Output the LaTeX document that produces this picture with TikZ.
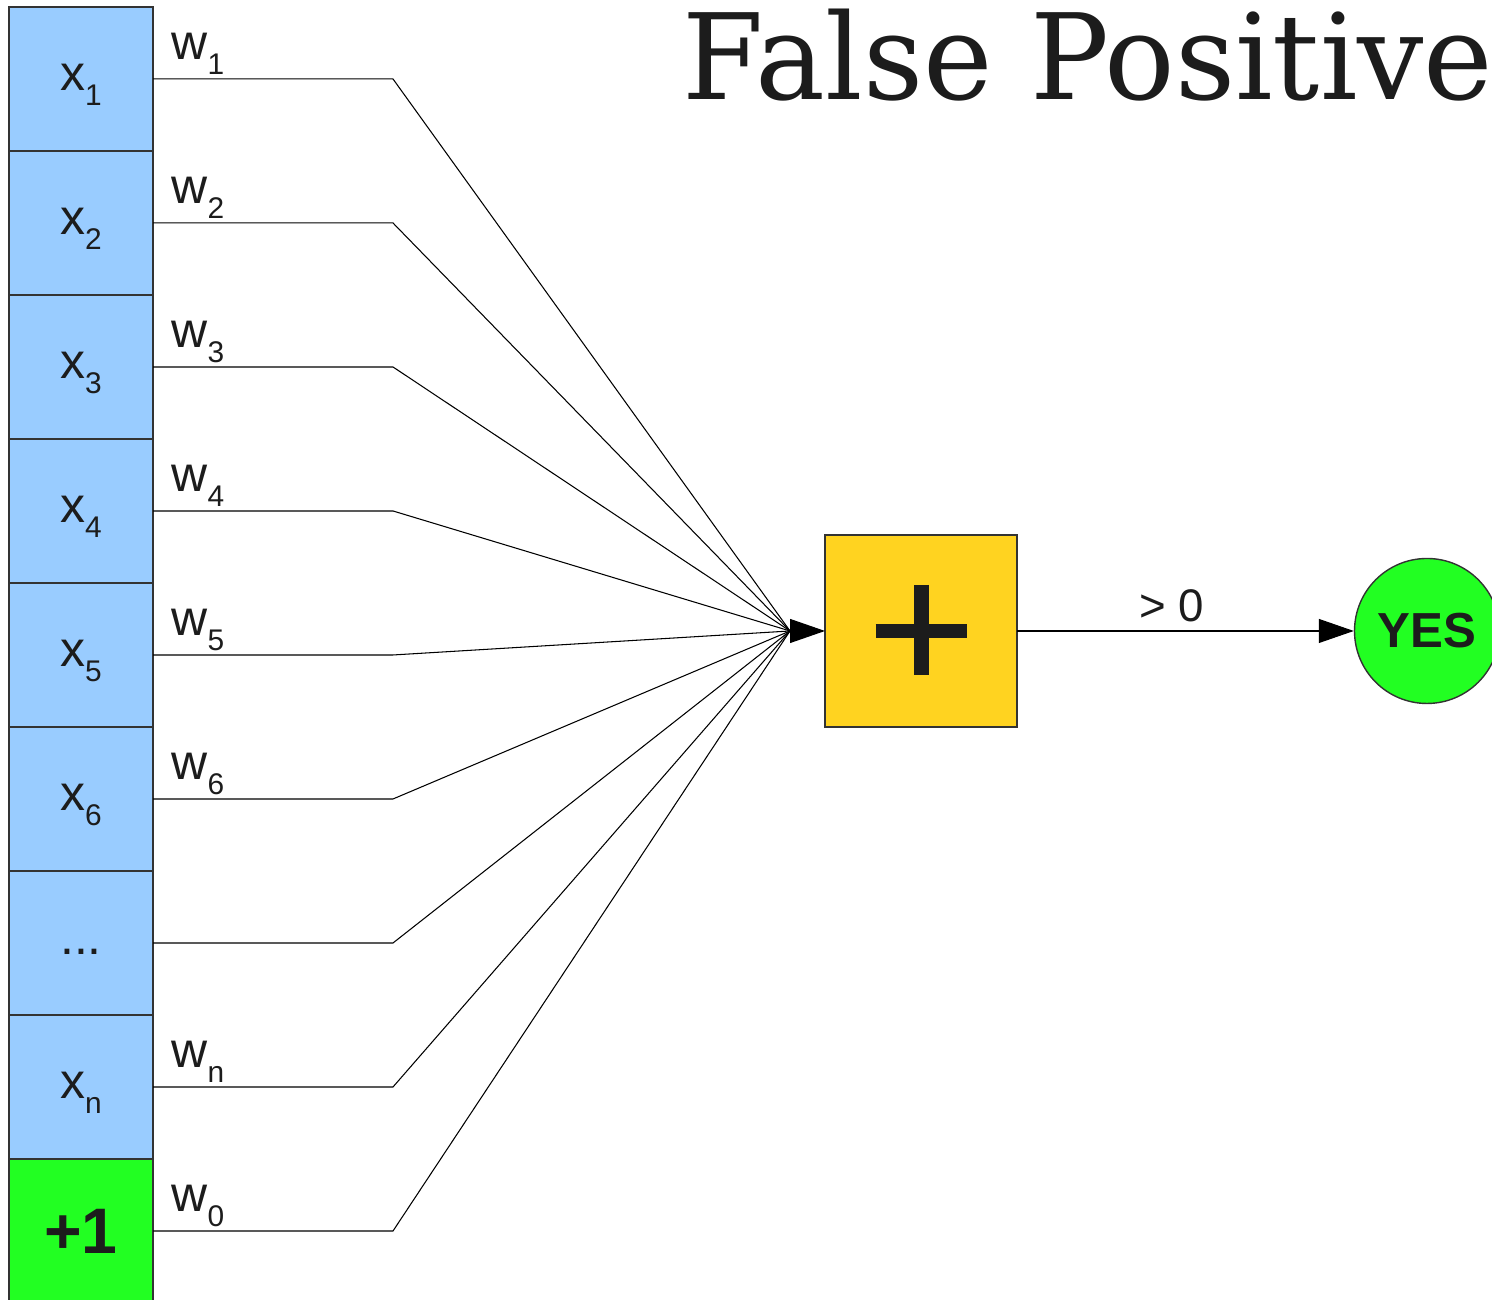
\documentclass[tikz,border=0pt]{standalone}
\usepackage{fontspec}
\setmainfont{Liberation Sans}
\newfontfamily\titlefont{DejaVu Serif}[FakeStretch=0.985]
\usepackage{tikz}
\usetikzlibrary{arrows.meta,positioning}
\definecolor{cellblue}{HTML}{99CCFF}
\definecolor{onegreen}{HTML}{22FF22}
\definecolor{sumyellow}{HTML}{FFD320}
\definecolor{ink}{HTML}{1C1C1C}
\newcommand{\lowidx}[1]{\raisebox{-0.15cm}{\fontsize{8.5pt}{10pt}\selectfont #1}}

\begin{document}
\begin{tikzpicture}[
		every node/.style={text=ink},
		cell/.style={draw=black!80, line width=0.4pt, fill=cellblue, minimum size=1.44cm,
			inner sep=0pt, outer sep=0pt, text height=0.34cm, text depth=0.10cm,
			font=\fontsize{14.2pt}{17pt}\selectfont},
		wlbl/.style={anchor=base west, inner sep=0pt, font=\fontsize{14.2pt}{17pt}\selectfont},
		wire/.style={black, line width=0.3pt},
		tip/.style={-{Triangle[length=0.35cm,width=0.24cm]}}
	]
		\useasboundingbox (0,0) rectangle (14.92,13);
		% input column
		\node[cell] (c1) at (0.81,12.21) {x\lowidx{1}};
		\node[cell, below=0pt of c1] (c2) {x\lowidx{2}};
		\node[cell, below=0pt of c2] (c3) {x\lowidx{3}};
		\node[cell, below=0pt of c3] (c4) {x\lowidx{4}};
		\node[cell, below=0pt of c4] (c5) {x\lowidx{5}};
		\node[cell, below=0pt of c5] (c6) {x\lowidx{6}};
		\node[cell, below=0pt of c6] (c7) {...};
		\node[cell, below=0pt of c7] (c8) {x\lowidx{n}};
		\node[cell, below=0pt of c8, fill=onegreen, text height=0.46cm, text depth=0cm,
			font=\bfseries\fontsize{18.3pt}{22pt}\selectfont] (c9) {+1};
		% weights
		\node[wlbl] (w1) at ([xshift=0.18cm,yshift=0.19cm]c1.east) {w\lowidx{1}};
		\node[wlbl] (w2) at ([xshift=0.18cm,yshift=0.19cm]c2.east) {w\lowidx{2}};
		\node[wlbl] (w3) at ([xshift=0.18cm,yshift=0.19cm]c3.east) {w\lowidx{3}};
		\node[wlbl] (w4) at ([xshift=0.18cm,yshift=0.19cm]c4.east) {w\lowidx{4}};
		\node[wlbl] (w5) at ([xshift=0.18cm,yshift=0.19cm]c5.east) {w\lowidx{5}};
		\node[wlbl] (w6) at ([xshift=0.18cm,yshift=0.19cm]c6.east) {w\lowidx{6}};
		\node[wlbl] (wn) at ([xshift=0.18cm,yshift=0.19cm]c8.east) {w\lowidx{n}};
		\node[wlbl] (w0) at ([xshift=0.18cm,yshift=0.19cm]c9.east) {w\lowidx{0}};
		% summing unit
		\coordinate (hub) at (7.90,6.69);
		\node[draw=black!80, fill=sumyellow, minimum size=1.92cm, inner sep=0pt, outer sep=0pt,
			right=0.35cm of hub] (sum) {};
		\draw[ink, line width=0.14cm] ([xshift=-0.455cm]sum.center) -- ([xshift=0.455cm]sum.center);
		\draw[ink, line width=0.15cm] ([yshift=0.46cm]sum.center) -- ([yshift=-0.44cm]sum.center);
		\node[circle, draw=black!80, fill=onegreen, minimum size=1.45cm, inner sep=0pt,
			font=\bfseries\fontsize{14pt}{17pt}\selectfont] (yes) at (14.27,6.69) {YES};
		% wires
		\draw[wire] (c1.east) -- ++(2.40,0) -- (hub);
		\draw[wire] (c2.east) -- ++(2.40,0) -- (hub);
		\draw[wire] (c3.east) -- ++(2.40,0) -- (hub);
		\draw[wire] (c4.east) -- ++(2.40,0) -- (hub);
		\draw[wire] (c5.east) -- ++(2.40,0) -- (hub);
		\draw[wire] (c6.east) -- ++(2.40,0) -- (hub);
		\draw[wire] (c7.east) -- ++(2.40,0) -- (hub);
		\draw[wire] (c8.east) -- ++(2.40,0) -- (hub);
		\draw[wire] (c9.east) -- ++(2.40,0) -- (hub);
		\draw[wire, tip] (hub) -- (sum.west);
		\draw[wire, tip] (sum.east) -- node[pos=0.46, anchor=base, yshift=0.09cm, inner sep=0pt,
			font=\fontsize{13pt}{15pt}\selectfont] (gt) {> 0} (yes.west);
		% title
		\node[anchor=base east, inner sep=0pt, font=\titlefont\fontsize{33.9pt}{40pt}\selectfont]
			(title) at (14.94,12.00) {False Positive};
	\end{tikzpicture}
\end{document}
